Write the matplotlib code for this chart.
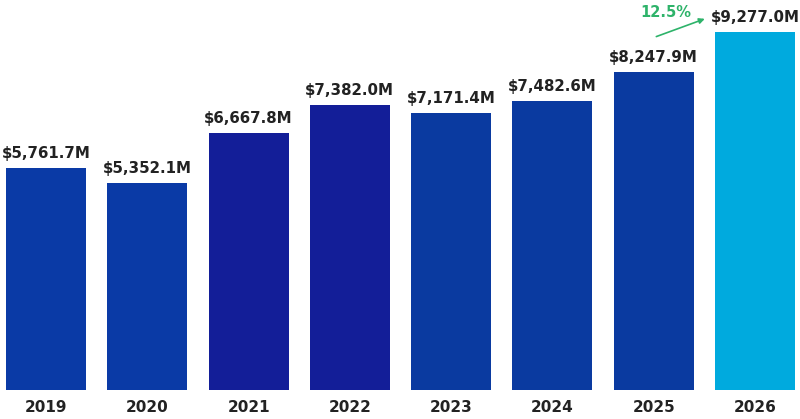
import matplotlib
matplotlib.use("Agg")
import matplotlib.pyplot as plt

years = ["2019", "2020", "2021", "2022", "2023", "2024", "2025", "2026"]
values = [5761.7, 5352.1, 6667.8, 7382.0, 7171.4, 7482.6, 8247.9, 9277.0]
colors = ["#0a3aa6", "#0a3aa6", "#131e98", "#131e98", "#0a3aa0", "#0a3aa0", "#0a3aa0", "#00aade"]

fig = plt.figure(figsize=(8, 4.19), dpi=100)
ax = fig.add_axes([6/800, 29/419, 789/800, 390/419])
x = list(range(len(years)))
ax.bar(x, values, width=0.79, color=colors)
ax.set_xlim(-0.395, len(years) - 1 + 0.395)
ax.set_ylim(0, 10100)
for s in ax.spines.values():
    s.set_visible(False)
ax.set_yticks([])
ax.set_xticks(x)
ax.set_xticklabels(years, fontsize=11, fontweight="bold", color="#222222")
ax.tick_params(axis="x", length=0, pad=7)

for xi, v in zip(x, values):
    ax.annotate(f"${v:,.1f}M", (xi, v), xytext=(0, 5), textcoords="offset points",
                ha="center", va="bottom", fontsize=10.8, fontweight="bold", color="#222222")

pct = (values[-1] - values[-2]) / values[-2] * 100
green = "#2eb36a"
ax.annotate("", xy=(6.53, values[-1] + 360), xytext=(6.0, values[-2] + 880),
            arrowprops=dict(arrowstyle="-|>", color=green, lw=1.2, mutation_scale=8))
ax.text(6.12, values[-1] + 300, f"{pct:.1f}%", ha="center", va="bottom",
        fontsize=10.5, fontweight="bold", color=green)

fig.savefig("out.png", dpi=100)
